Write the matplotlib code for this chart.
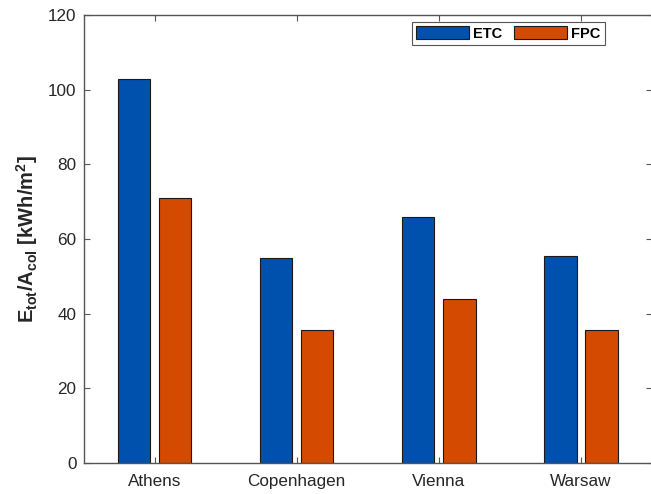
import matplotlib
matplotlib.use("Agg")
import matplotlib.pyplot as plt
import numpy as np

cities = ["Athens", "Copenhagen", "Vienna", "Warsaw"]
etc_values = [102.8, 54.8, 65.9, 55.5]
fpc_values = [71.1, 35.6, 43.9, 35.7]
series_names = ["ETC", "FPC"]
yticks = [0, 20, 40, 60, 80, 100, 120]

plt.rcParams["font.family"] = ["Liberation Sans", "DejaVu Sans"]
plt.rcParams["mathtext.fontset"] = "custom"
plt.rcParams["mathtext.rm"] = "Liberation Sans:bold"
plt.rcParams["mathtext.it"] = "Liberation Sans:bold"
plt.rcParams["mathtext.bf"] = "Liberation Sans:bold"
plt.rcParams["mathtext.default"] = "rm"

axis_color = "#555555"
text_color = "#262626"
blue = "#0051ad"
orange = "#d44a00"

fig = plt.figure(figsize=(6.51, 4.94), dpi=100)
ax = fig.add_axes([83.5 / 651, 31 / 494, 568.5 / 651, 448 / 494])

x = np.arange(1, len(cities) + 1)
w = 0.228
off = 0.145
ax.bar(x - off, etc_values, w, color=blue, edgecolor="#1a1a1a", linewidth=0.8,
       label=series_names[0])
ax.bar(x + off, fpc_values, w, color=orange, edgecolor="#1a1a1a", linewidth=0.8,
       label=series_names[1])

ax.set_xlim(0.5, 4.5)
ax.set_ylim(0, 120)
ax.set_xticks(x)
ax.set_xticklabels(cities)
ax.set_yticks(yticks)

for s in ax.spines.values():
    s.set_color(axis_color)
    s.set_linewidth(1.0)

ax.tick_params(axis="both", direction="in", length=4.5, width=0.8, color=axis_color,
               labelcolor=text_color, labelsize=12.3, top=True, right=True)
ax.tick_params(axis="x", pad=8)
ax.tick_params(axis="y", pad=5)

ax.set_ylabel(r"$E_{tot}/A_{col}$ [kWh/m$^2$]", fontsize=14.5, fontweight="bold",
              color=text_color, labelpad=6)

leg = ax.legend(loc="upper left", bbox_to_anchor=(412 / 651, 1 - 22 / 494),
                bbox_transform=fig.transFigure, ncol=2, frameon=True,
                fancybox=False, edgecolor="#555555", framealpha=1,
                prop={"weight": "bold", "size": 10.5},
                handlelength=3.6, handleheight=1.0, handletextpad=0.3,
                columnspacing=0.8, borderpad=0.3, borderaxespad=0)
leg.get_frame().set_linewidth(0.8)

fig.savefig("out.png", dpi=100)
